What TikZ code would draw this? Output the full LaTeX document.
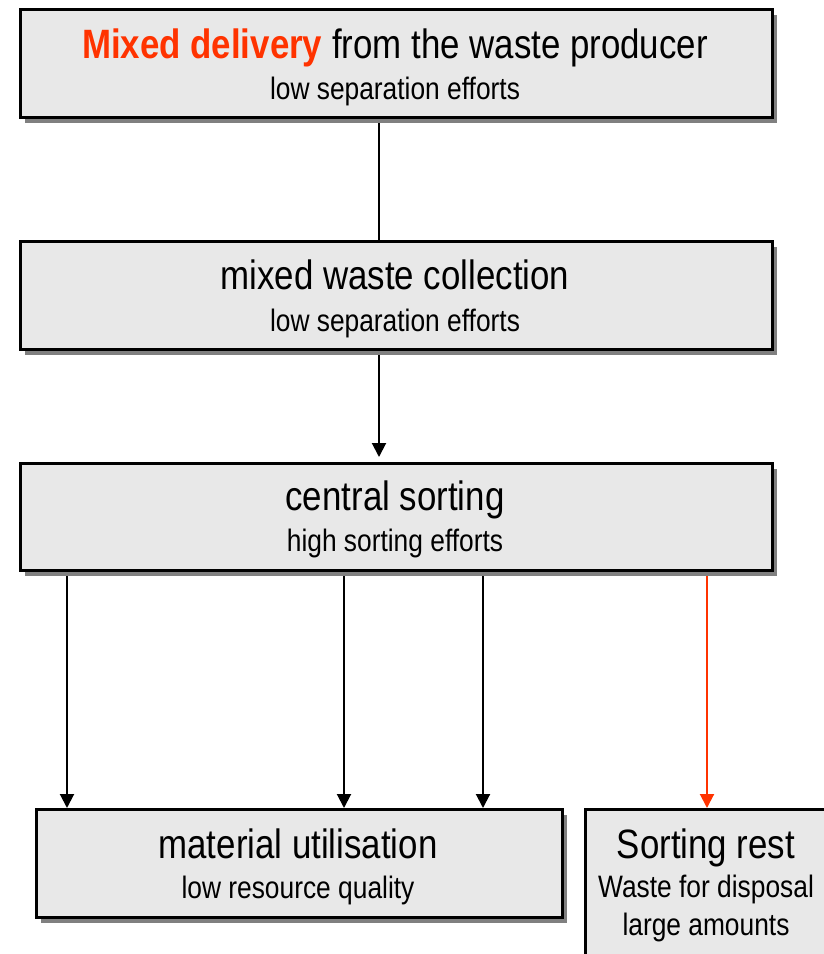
\documentclass[tikz,border=0pt]{standalone}
\usepackage{fontspec}
\setmainfont{Liberation Sans}[FakeStretch=0.85]
\usetikzlibrary{arrows.meta,shadows,backgrounds}
\definecolor{boxfill}{HTML}{E8E8E8}
\definecolor{shad}{HTML}{808080}
\definecolor{accent}{HTML}{FF3300}
\tikzset{
  box/.style={draw=black, line width=2.5pt, fill=boxfill,
    drop shadow={shadow xshift=5pt, shadow yshift=-6pt, fill=shad, opacity=1},
    inner sep=0pt, anchor=north west},
  head/.style={font=\fontsize{41}{41}\selectfont, anchor=base, inner sep=0pt},
  sub/.style={font=\fontsize{31}{31}\selectfont, anchor=base, inner sep=0pt},
  conn/.style={line width=2pt, draw=black},
  arr/.style={conn, -{Triangle[width=14pt,length=14pt]}},
}
\begin{document}
\begin{tikzpicture}[x=1pt,y=-1pt]
\clip (0,0) rectangle (824,954);
% boxes
\node[box, minimum width=752pt, minimum height=108pt] (b1) at (19,8) {};
\node[box, minimum width=752pt, minimum height=108pt] (b2) at (19,240) {};
\node[box, minimum width=752pt, minimum height=107pt] (b3) at (19,462) {};
\node[box, minimum width=526pt, minimum height=108pt] (b4) at (35,808) {};
\node[box, minimum width=246pt, minimum height=170pt] (b5) at (584,808) {};
% texts
\node[head] (t1a) at (395,58) {{\color{accent}\bfseries Mixed delivery} from the waste producer};
\node[sub] (t1b) at (395,99) {low separation efforts};
\node[head] (t2a) at (395,289) {mixed waste collection};
\node[sub] (t2b) at (395,331) {low separation efforts};
\node[head] (t3a) at (395,510) {central sorting};
\node[sub] (t3b) at (395,551) {high sorting efforts};
\node[head] (t4a) at (298,858) {material utilisation};
\node[sub] (t4b) at (298,898) {low resource quality};
\node[head] (t5a) at (706,858) {Sorting rest};
\node[sub] (t5b) at (706,897) {Waste for disposal};
\node[sub] (t5c) at (706,935) {large amounts};
% connector x positions
\coordinate (xa) at (379,0);
\coordinate (xb) at (67,0);
\coordinate (xc) at (344,0);
\coordinate (xd) at (483,0);
\coordinate (xe) at (707,0);
\begin{pgfonlayer}{background}
\draw[conn] (b1.south -| xa) -- (b2.north -| xa);
\draw[arr, shorten >=5pt] (b2.south -| xa) -- (b3.north -| xa);
\draw[arr] (b3.south -| xb) -- (b4.north -| xb);
\draw[arr] (b3.south -| xc) -- (b4.north -| xc);
\draw[arr] (b3.south -| xd) -- (b4.north -| xd);
\draw[arr, draw=accent, fill=accent] (b3.south -| xe) -- (b5.north -| xe);
\end{pgfonlayer}
\end{tikzpicture}
\end{document}
